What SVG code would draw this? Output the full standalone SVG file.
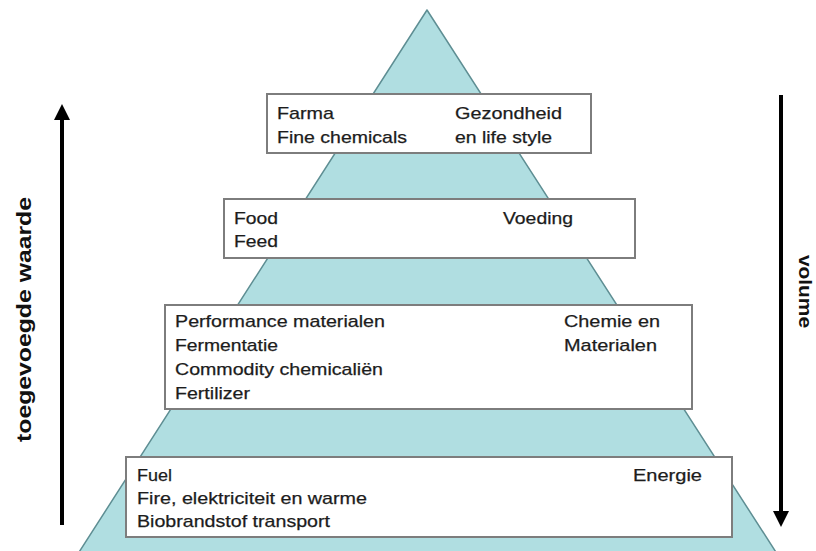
<svg xmlns="http://www.w3.org/2000/svg" width="816" height="551" viewBox="0 0 816 551">
  <defs>
    <style>
      .pyr { fill: #b0dee1; stroke: #5e8e93; stroke-width: 1.5; stroke-linejoin: round; }
      .box { fill: #ffffff; stroke: #7d7d7d; stroke-width: 2; }
      .t { font-family: "Liberation Sans", Arial, sans-serif; font-size: 17px; fill: #1c1c1c; stroke: #1c1c1c; stroke-width: 0.25; }
      .ax { font-family: "Liberation Sans", Arial, sans-serif; font-weight: bold; fill: #111111; }
      .arrow { stroke: #000000; stroke-width: 4; fill: none; }
    </style>
    <marker id="head" viewBox="0 0 16 16" refX="8" refY="8" markerWidth="16" markerHeight="16" markerUnits="userSpaceOnUse" orient="auto">
      <path d="M0,0 L16,8 L0,16 Z" fill="#000000"/>
    </marker>
  </defs>
  <rect width="816" height="551" fill="#ffffff"/>

  <g id="pyramid">
    <polygon class="pyr" points="427,10 74,560 781,560"/>
  </g>

  <g id="node-farma">
    <rect class="box" x="267" y="94" width="324" height="59"/>
    <text class="t" x="277" y="119" textLength="57" lengthAdjust="spacingAndGlyphs">Farma</text>
    <text class="t" x="277" y="143" textLength="130" lengthAdjust="spacingAndGlyphs">Fine chemicals</text>
    <text class="t" x="455" y="119" textLength="107" lengthAdjust="spacingAndGlyphs">Gezondheid</text>
    <text class="t" x="455" y="143" textLength="97" lengthAdjust="spacingAndGlyphs">en life style</text>
  </g>

  <g id="node-food">
    <rect class="box" x="224" y="199" width="411" height="59"/>
    <text class="t" x="234" y="224" textLength="44" lengthAdjust="spacingAndGlyphs">Food</text>
    <text class="t" x="234" y="247" textLength="44" lengthAdjust="spacingAndGlyphs">Feed</text>
    <text class="t" x="503" y="224" textLength="70" lengthAdjust="spacingAndGlyphs">Voeding</text>
  </g>

  <g id="node-materialen">
    <rect class="box" x="165" y="305" width="527" height="104"/>
    <text class="t" x="175" y="327" textLength="210" lengthAdjust="spacingAndGlyphs">Performance materialen</text>
    <text class="t" x="175" y="351" textLength="103" lengthAdjust="spacingAndGlyphs">Fermentatie</text>
    <text class="t" x="175" y="375" textLength="208" lengthAdjust="spacingAndGlyphs">Commodity chemicaliën</text>
    <text class="t" x="175" y="399" textLength="75" lengthAdjust="spacingAndGlyphs">Fertilizer</text>
    <text class="t" x="564" y="327" textLength="96" lengthAdjust="spacingAndGlyphs">Chemie en</text>
    <text class="t" x="564" y="351" textLength="93" lengthAdjust="spacingAndGlyphs">Materialen</text>
  </g>

  <g id="node-energie">
    <rect class="box" x="126" y="457" width="606" height="80"/>
    <text class="t" x="137" y="481" textLength="35" lengthAdjust="spacingAndGlyphs">Fuel</text>
    <text class="t" x="137" y="504" textLength="230" lengthAdjust="spacingAndGlyphs">Fire, elektriciteit en warme</text>
    <text class="t" x="137" y="527" textLength="193" lengthAdjust="spacingAndGlyphs">Biobrandstof transport</text>
    <text class="t" x="633" y="481" textLength="69" lengthAdjust="spacingAndGlyphs">Energie</text>
  </g>

  <g id="connectors">
    <line class="arrow" x1="62" y1="525" x2="62" y2="112" marker-end="url(#head)"/>
    <line class="arrow" x1="781" y1="95" x2="781" y2="519" marker-end="url(#head)"/>
  </g>

  <g id="axis-labels">
    <text class="ax" font-size="21" transform="translate(31,442) rotate(-90)" textLength="245" lengthAdjust="spacingAndGlyphs">toegevoegde waarde</text>
    <text class="ax" font-size="19" transform="translate(799,255) rotate(90)" textLength="73" lengthAdjust="spacingAndGlyphs">volume</text>
  </g>
</svg>
